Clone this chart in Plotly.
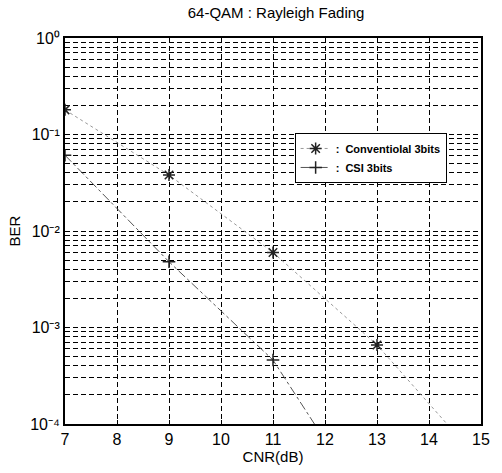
import plotly.graph_objects as go

cnr = [7, 9, 11, 13, 15]
ber_conv = [0.18, 0.038, 0.0060, 0.00066, 0.00004]
ber_csi = [0.061, 0.0048, 0.00046, 0.00001, 0.0000005]

ytickvals = [1e-4, 1e-3, 1e-2, 1e-1, 1]
yticktext = ["10\u207b\u2074", "10\u207b\u00b3", "10\u207b\u00b2", "10\u207b\u00b9", "10\u2070"]
xtickvals = [7, 8, 9, 10, 11, 12, 13, 14, 15]

fig = go.Figure()
fig.add_trace(go.Scatter(
    x=cnr, y=ber_conv, mode="lines+markers",
    name="<b>:  Conventiolal 3bits</b>",
    line=dict(color="#999999", width=1, dash="dot"),
    marker=dict(symbol="asterisk-open", size=10, color="#222222", line=dict(width=1.5, color="#222222")),
))
fig.add_trace(go.Scatter(
    x=cnr, y=ber_csi, mode="lines+markers",
    name="<b>:  CSI 3bits</b>",
    line=dict(color="#555555", width=1, dash="dashdot"),
    marker=dict(symbol="cross-thin-open", size=9, color="#222222", line=dict(width=1.5, color="#222222")),
))

fig.update_layout(
    width=502, height=473,
    margin=dict(l=65, r=15, t=38, b=49),
    paper_bgcolor="white", plot_bgcolor="white",
    font=dict(family="Liberation Sans, Arial", size=15, color="black"),
    title=dict(text="64-QAM : Rayleigh Fading", x=0.55, xanchor="center", y=0.972, yanchor="middle",
               font=dict(size=15)),
    showlegend=True,
    legend=dict(x=0.552, y=0.754, xanchor="left", yanchor="top",
                bgcolor="white", bordercolor="black", borderwidth=1,
                font=dict(size=11, family="Liberation Sans, Arial"),
                itemwidth=30),
    xaxis=dict(range=[7, 15], tickvals=xtickvals, showline=True, linecolor="black", linewidth=2,
               mirror=True, ticks="inside", ticklen=4, tickcolor="black",
               showgrid=True, gridcolor="black", griddash="5px,3px", gridwidth=1.4,
               zeroline=False, tickfont=dict(size=16),
               title=dict(text="CNR(dB)", standoff=2, font=dict(size=15))),
    yaxis=dict(type="log", range=[-4, 0], tickvals=ytickvals, ticktext=yticktext,
               showline=True, linecolor="black", linewidth=2, mirror=True,
               ticks="inside", ticklen=4, tickcolor="black", tickfont=dict(size=16),
               showgrid=True, gridcolor="black", griddash="5px,3px", gridwidth=1.4,
               minor=dict(showgrid=True, gridcolor="black", griddash="5px,3px", gridwidth=1.4,
                          dtick="D1", ticks=""),
               zeroline=False, title=dict(text="BER", standoff=6, font=dict(size=15))),
)
fig.write_html("out.html")
